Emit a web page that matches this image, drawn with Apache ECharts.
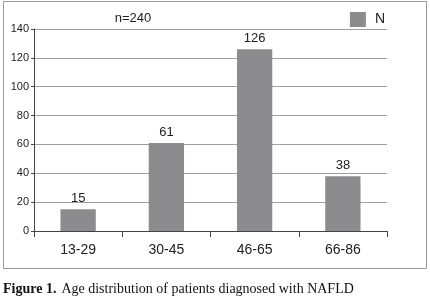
<!DOCTYPE html>
<html><head><meta charset="utf-8">
<script src="https://cdn.jsdelivr.net/npm/echarts@6/dist/echarts.min.js"></script>
<style>html,body{margin:0;padding:0;background:#fff;}#c{width:430px;height:298px;}</style>
</head><body><div id="c"></div>
<script>
const categories = ['13-29', '30-45', '46-65', '66-86'];
const values = [15, 61, 126, 38];
const seriesName = 'N';
const subtitle = 'n=240';
const yTicks = { min: 0, max: 140, interval: 20 };

const chart = echarts.init(document.getElementById('c'), null, { renderer: 'canvas' });
chart.setOption({
  animation: false,
  backgroundColor: '#fff',
  textStyle: { fontFamily: 'Liberation Sans, Arial, sans-serif' },
  title: [
    { text: subtitle, left: 128, top: 7, textAlign: 'center',
      textStyle: { fontSize: 13, fontWeight: 'normal', color: '#222' } },
    { text: '{b|Figure 1.} {r|Age distribution of patients diagnosed with NAFLD}', left: -2, top: 275,
      textStyle: { fontWeight: 'normal', rich: {
        b: { fontFamily: 'Liberation Serif, serif', fontWeight: 'bold', fontSize: 14, color: '#111' },
        r: { fontFamily: 'Liberation Serif, serif', fontWeight: 'normal', fontSize: 14, color: '#111' } } } }
  ],
  legend: {
    data: [{ name: seriesName, icon: 'rect' }], right: 40, top: 7, itemWidth: 16, itemHeight: 15, itemGap: 10,
    textStyle: { fontSize: 14, color: '#222', padding: [0, 0, 0, 4] }
  },
  grid: { left: 34, right: 43, top: 29, bottom: 67 },
  xAxis: {
    type: 'category', data: categories,
    axisLine: { lineStyle: { color: '#444', width: 1 } },
    axisTick: { show: true, length: 6, alignWithLabel: false, lineStyle: { color: '#444' } },
    axisLabel: { fontSize: 14, color: '#222', margin: 12 }
  },
  yAxis: {
    type: 'value', min: yTicks.min, max: yTicks.max, interval: yTicks.interval,
    axisLine: { show: true, lineStyle: { color: '#444' } },
    axisTick: { show: true, length: 3, lineStyle: { color: '#444' } },
    axisLabel: { fontSize: 11, color: '#222', margin: 5 },
    splitLine: { lineStyle: { color: '#a0a0a0', width: 1 } }
  },
  series: [{
    name: seriesName, type: 'bar', data: values, barWidth: '40%',
    itemStyle: { color: '#8c8c8e' },
    label: { show: true, position: 'top', distance: 4, fontSize: 13, color: '#222' }
  }],
  graphic: [{
    type: 'rect', shape: { x: 3.5, y: 1.5, width: 423, height: 267 },
    style: { fill: 'none', stroke: '#999', lineWidth: 1 }, silent: true, z: -1
  }]
});
</script></body></html>
